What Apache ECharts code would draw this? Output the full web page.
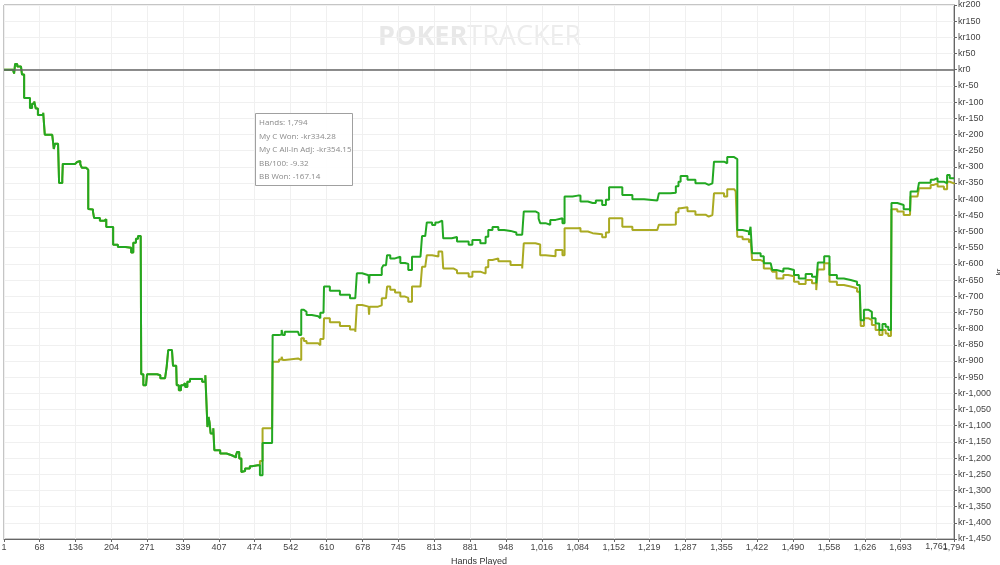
<!DOCTYPE html>
<html><head><meta charset="utf-8">
<script src="https://cdn.jsdelivr.net/npm/echarts@6/dist/echarts.min.js"></script>
<style>html,body{margin:0;padding:0;background:#fff;overflow:hidden;width:100%;height:100%}#c{width:1000px;height:565px;position:absolute;left:0;top:0}</style>
</head><body><div id="c"></div>
<script>
// Hands at which x-axis labels appear
const xTicks = [1,68,136,204,271,339,407,474,542,610,678,745,813,881,948,1016,1084,1152,1219,1287,1355,1422,1490,1558,1626,1693,1761,1794];
// [hand, kr] — both lines identical over this stretch
const commonStart = [
[1,0],[12,0],[18,-5],[20,-12],[22,18],[26,10],[33,8],[35,-15],[39,-87],[46,-87],[50,-118],[54,-105],[58,-98],[61,-120],[65,-140],[75,-133],[78,-201],[92,-198],[94,-229],[95,-245],[97,-229],[103,-229],[105,-350],[108,-350],[111,-337],[112,-291],[129,-291],[135,-285],[139,-282],[145,-292],[148,-303],[156,-309],[160,-430],[163,-432],[169,-439],[171,-458],[182,-467],[190,-462],[194,-486],[203,-486],[207,-541],[216,-548],[230,-550],[241,-565],[245,-535],[250,-522],[254,-514],[259,-514],[260,-941],[264,-975],[269,-975],[271,-941],[290,-944],[296,-953],[305,-953],[308,-918],[311,-866],[318,-866],[320,-915],[326,-915],[327,-975],[331,-990],[335,-975],[339,-969],[343,-980],[347,-964],[352,-956],[366,-956],[375,-964],[381,-944],[384,-944],[385,-1104],[387,-1073],[389,-1090],[391,-1124],[396,-1108],[398,-1176],[409,-1186],[421,-1192],[432,-1198],[439,-1190],[441,-1181],[445,-1201],[449,-1243],[452,-1240],[456,-1232],[461,-1232],[465,-1225],[469,-1222],[480,-1222]
];
// My C Won (green)
const wonTail = [
[484,-1253],[489,-1153],[507,-1153],[508,-820],[520,-818],[525,-804],[527,-820],[531,-810],[556,-810],[558,-820],[562,-742],[567,-748],[572,-758],[582,-762],[594,-768],[598,-751],[604,-751],[605,-670],[616,-683],[635,-695],[654,-706],[664,-712],[667,-629],[677,-635],[689,-637],[690,-660],[691,-634],[707,-634],[714,-613],[717,-604],[722,-604],[724,-573],[730,-583],[739,-578],[749,-597],[758,-600],[764,-619],[771,-578],[787,-578],[790,-514],[796,-514],[799,-472],[809,-480],[815,-472],[821,-466],[828,-466],[830,-521],[846,-526],[849,-517],[856,-531],[866,-531],[878,-541],[885,-526],[896,-526],[900,-536],[910,-516],[915,-495],[923,-486],[934,-495],[945,-498],[957,-503],[968,-510],[979,-516],[982,-438],[1004,-443],[1010,-460],[1013,-474],[1023,-479],[1032,-464],[1042,-459],[1055,-474],[1059,-392],[1074,-389],[1084,-389],[1089,-407],[1103,-412],[1112,-412],[1118,-404],[1130,-418],[1137,-402],[1143,-363],[1159,-363],[1168,-387],[1187,-400],[1209,-404],[1234,-407],[1237,-382],[1259,-380],[1269,-360],[1274,-346],[1278,-328],[1291,-340],[1306,-351],[1325,-356],[1331,-351],[1338,-346],[1341,-284],[1360,-289],[1366,-270],[1379,-273],[1382,-276],[1385,-495],[1395,-500],[1407,-511],[1410,-485],[1413,-567],[1429,-576],[1435,-598],[1448,-603],[1451,-619],[1459,-624],[1472,-614],[1481,-619],[1492,-634],[1501,-645],[1514,-631],[1526,-640],[1534,-660],[1537,-596],[1549,-576],[1559,-634],[1573,-645],[1586,-650],[1599,-655],[1611,-665],[1616,-670],[1618,-774],[1624,-742],[1633,-748],[1639,-768],[1646,-784],[1653,-804],[1659,-786],[1665,-794],[1670,-804],[1675,-804],[1676,-412],[1687,-418],[1699,-431],[1711,-438],[1712,-376],[1725,-376],[1728,-349],[1744,-349],[1750,-340],[1756,-335],[1763,-346],[1775,-351],[1781,-325],[1786,-335],[1794,-334.28]
];
// My C All-In Adj (olive)
const adjTail = [
[484,-1209],[489,-1108],[507,-1108],[508,-902],[520,-895],[525,-887],[527,-897],[531,-892],[556,-892],[558,-897],[562,-830],[567,-838],[572,-845],[594,-851],[598,-832],[604,-832],[605,-768],[616,-780],[635,-792],[654,-803],[664,-810],[667,-727],[677,-732],[689,-735],[690,-757],[691,-732],[707,-728],[714,-706],[722,-700],[724,-670],[730,-680],[739,-688],[749,-701],[758,-705],[764,-717],[771,-670],[787,-670],[790,-609],[796,-609],[799,-573],[809,-577],[821,-562],[828,-562],[830,-614],[849,-620],[856,-629],[866,-629],[878,-640],[885,-624],[896,-624],[900,-630],[910,-610],[915,-588],[923,-583],[934,-592],[957,-603],[979,-614],[982,-536],[1004,-540],[1013,-573],[1023,-576],[1042,-557],[1055,-573],[1059,-490],[1084,-489],[1089,-500],[1103,-505],[1112,-508],[1130,-518],[1137,-503],[1143,-459],[1159,-459],[1168,-485],[1187,-495],[1234,-500],[1237,-479],[1259,-478],[1269,-440],[1274,-428],[1278,-425],[1291,-437],[1306,-448],[1325,-454],[1331,-449],[1338,-446],[1341,-382],[1360,-392],[1366,-369],[1379,-369],[1382,-376],[1385,-516],[1395,-524],[1407,-534],[1410,-524],[1413,-588],[1429,-593],[1435,-614],[1448,-620],[1451,-624],[1459,-645],[1472,-634],[1481,-638],[1492,-655],[1501,-662],[1514,-650],[1526,-660],[1534,-681],[1537,-617],[1549,-598],[1559,-655],[1573,-665],[1586,-670],[1599,-675],[1611,-686],[1616,-691],[1618,-792],[1624,-768],[1633,-774],[1639,-789],[1646,-804],[1653,-820],[1659,-804],[1665,-815],[1670,-823],[1675,-823],[1676,-431],[1687,-438],[1699,-449],[1711,-454],[1712,-392],[1725,-392],[1728,-366],[1744,-366],[1750,-356],[1756,-351],[1763,-361],[1775,-369],[1781,-346],[1786,-351],[1794,-354.15]
];
const infoLines = ['Hands: 1,794','My C Won: -kr334.28','My C All-In Adj: -kr354.15','BB/100: -9.32','BB Won: -167.14'];

const fmt = v => v.toLocaleString('en-US');
const chart = echarts.init(document.getElementById('c'), null, {renderer:'canvas',width:1000,height:565});
const FONT = 'Liberation Sans';
const labelStyle = {fontFamily:FONT,fontSize:9,color:'#444'};
chart.setOption({
  animation:false,
  grid:{left:4,right:46,top:5,bottom:26,show:true,borderColor:'#8a8a8a',borderWidth:1,containLabel:false,outerBoundsMode:'none'},
  xAxis:{type:'value',min:1,max:1794,name:'Hands Played',nameLocation:'middle',nameGap:16,
    nameTextStyle:{fontFamily:FONT,fontSize:9,color:'#333'},
    axisLine:{show:true,onZero:false,lineStyle:{color:'#666'}},
    axisTick:{show:true,customValues:xTicks,length:3,lineStyle:{color:'#666'}},
    axisLabel:Object.assign({customValues:xTicks,formatter:v=>fmt(v),margin:4,showMinLabel:true,showMaxLabel:true,hideOverlap:false},labelStyle),
    splitLine:{show:true,lineStyle:{color:'#f0f0f0',width:1}}},
  yAxis:{type:'value',position:'right',min:-1450,max:200,interval:50,name:'kr',nameLocation:'middle',nameGap:41,nameRotate:90,nameMoveOverlap:false,
    nameTextStyle:{fontFamily:FONT,fontSize:8,color:'#333'},
    axisLine:{show:true,lineStyle:{color:'#666'}},
    axisTick:{show:true,length:3,lineStyle:{color:'#666'}},
    axisLabel:Object.assign({formatter:v=>'kr'+fmt(v),margin:4},labelStyle),
    splitLine:{show:true,lineStyle:{color:'#f0f0f0',width:1}}},
  graphic:[
    {type:'text',left:378,top:24,z:0,silent:true,style:{text:'{b|POKER}{n|TRACKER}',rich:{
      b:{fontFamily:'Open Sans',fontWeight:'bold',fontSize:27,fill:'#e8e8e8'},
      n:{fontFamily:'Open Sans',fontWeight:'normal',fontSize:27,fill:'#ececec'}}}},
    {type:'rect',left:255,top:113,z:10,shape:{width:97,height:72},style:{fill:'rgba(255,255,255,0.9)',stroke:'#a0a0a0',lineWidth:1}},
    {type:'text',left:259,top:116,z:11,style:{text:infoLines.join('\n'),fontFamily:'Open Sans',fontSize:8,lineHeight:13.5,fill:'#8a8a8a'}}
  ],
  series:[
    {name:'My C All-In Adj',type:'line',step:'end',showSymbol:false,data:commonStart.concat(adjTail),
      lineStyle:{color:'#aaaa22',width:2},itemStyle:{color:'#aaaa22'},z:2},
    {name:'My C Won',type:'line',step:'end',showSymbol:false,data:commonStart.concat(wonTail),
      lineStyle:{color:'#22a822',width:2},itemStyle:{color:'#22a822'},z:3,
      markLine:{silent:true,symbol:'none',label:{show:false},lineStyle:{color:'#666',width:1.5,type:'solid'},data:[{yAxis:0}]}}
  ]
});
// ECharts drops the label next to the max label when they overlap; the reference shows both,
// so place the second-to-last tick label at its axis position through the library's scale.
const lastInner = xTicks[xTicks.length-2];
const px = chart.convertToPixel({xAxisIndex:0,yAxisIndex:0},[lastInner,-1450]);
chart.setOption({graphic:[{id:'lbl1761',type:'text',x:px[0],y:px[1]+3,z:5,
  style:{text:fmt(lastInner),font:'9px "Liberation Sans"',fill:'#444',align:'center',verticalAlign:'top'}}]});
</script></body></html>
